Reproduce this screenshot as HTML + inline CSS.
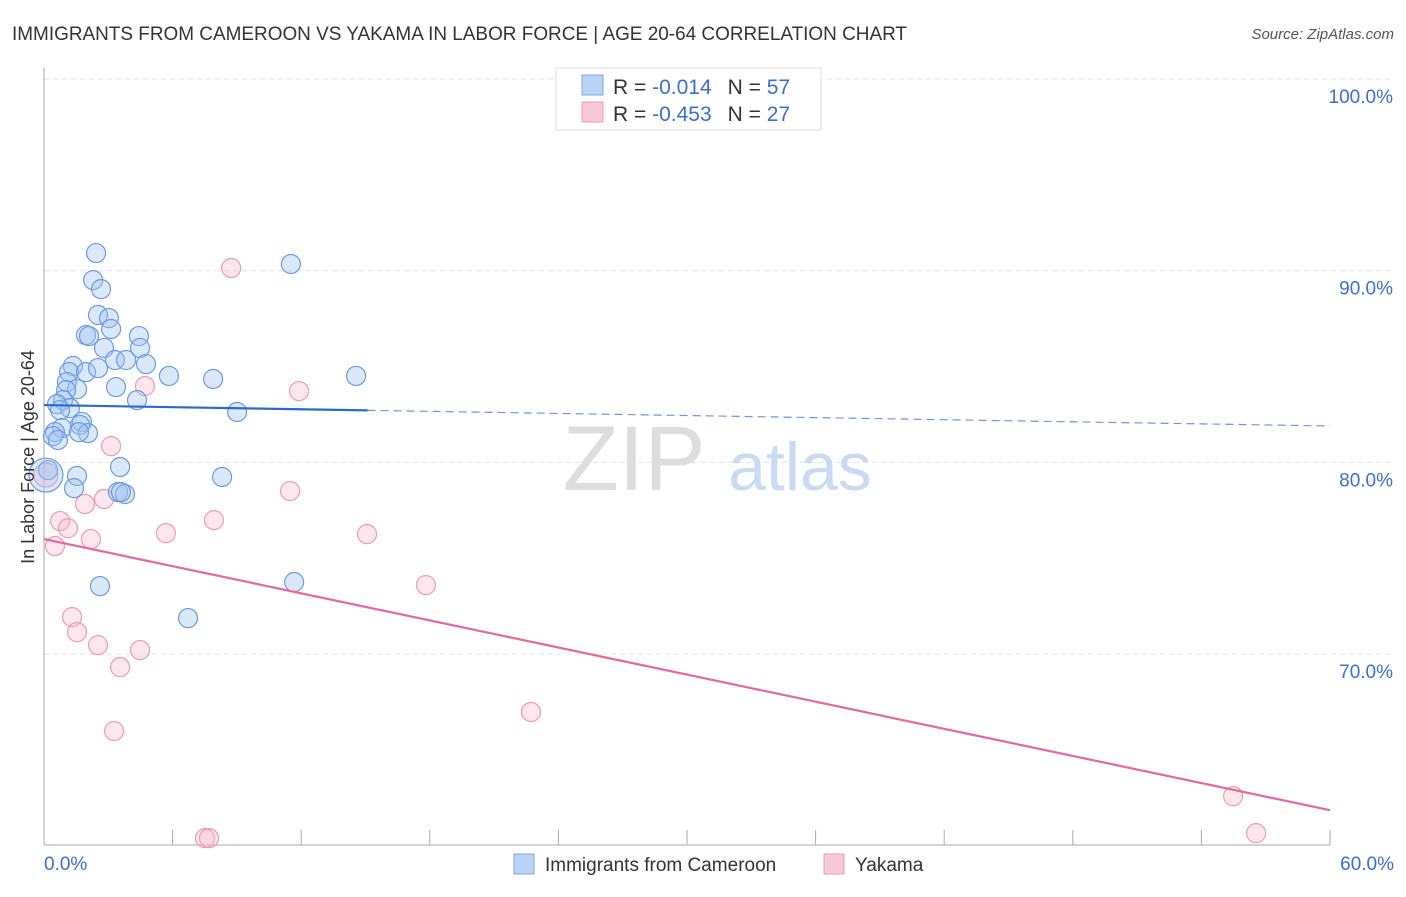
<!DOCTYPE html>
<html><head><meta charset="utf-8"><style>
body{margin:0;background:#fff;font-family:"Liberation Sans",sans-serif;}
svg text{font-family:"Liberation Sans",sans-serif;}
</style></head><body>
<svg id="chart" width="1406" height="892">
<text x="12" y="40" font-size="19" fill="#333" textLength="895" lengthAdjust="spacingAndGlyphs">IMMIGRANTS FROM CAMEROON VS YAKAMA IN LABOR FORCE | AGE 20-64 CORRELATION CHART</text>
<text x="1394" y="39" font-size="15" fill="#555" font-style="italic" text-anchor="end">Source: ZipAtlas.com</text>
<g id="grid"></g>
<g><text x="634" y="490" font-size="92" fill="#ddd" font-family="Liberation Serif" text-anchor="middle">ZIP</text><text x="800" y="490" font-size="68" fill="#c9daf3" text-anchor="middle">atlas</text></g>
<g id="axes"></g>
<g id="marks"></g>
<text transform="translate(34,457) rotate(-90)" font-size="18" fill="#333" text-anchor="middle">In Labor Force | Age 20-64</text>
<g>
<rect x="556" y="68" width="265" height="62" fill="#fff" stroke="#ddd"/>
<rect x="582" y="75" width="21" height="20" fill="#b9d3f5" stroke="#7fa8e6"/>
<rect x="582" y="102" width="21" height="20" fill="#fac9d8" stroke="#f09ab5"/>
<text x="613" y="94" font-size="21" fill="#333">R = <tspan fill="#3a6fd0">-0.014</tspan><tspan dx="16">N = </tspan><tspan fill="#3a6fd0">57</tspan></text>
<text x="613" y="121" font-size="21" fill="#333">R = <tspan fill="#3a6fd0">-0.453</tspan><tspan dx="16">N = </tspan><tspan fill="#3a6fd0">27</tspan></text>
</g>
<g>
<rect x="514" y="854" width="20" height="20" fill="#b9d3f5" stroke="#7fa8e6"/>
<text x="545" y="871" font-size="19" fill="#333">Immigrants from Cameroon</text>
<rect x="824" y="854" width="20" height="20" fill="#fac9d8" stroke="#f09ab5"/>
<text x="855" y="871" font-size="19" fill="#333">Yakama</text>
</g>
</svg>
<script>
const yTicks=[100,90,80,70];
const yTickLabels=["100.0%","90.0%","80.0%","70.0%"];
const xTickLabels=["0.0%","60.0%"];
const blueX=[2.43,11.52,2.29,2.66,2.52,3.03,3.13,1.96,2.10,4.43,2.80,4.48,3.31,3.83,4.76,1.35,1.17,1.96,2.52,5.83,7.89,14.56,1.07,3.36,1.54,1.03,4.34,0.89,0.61,1.21,0.75,9.01,1.77,1.68,0.84,0.51,2.05,1.63,0.42,0.65,0.19,3.55,1.54,8.31,1.40,3.45,3.78,3.59,2.61,11.67,6.72,0.09];
const blueY=[90.92,90.35,89.51,89.04,87.69,87.53,86.96,86.64,86.59,86.59,85.97,85.97,85.34,85.34,85.13,85.03,84.71,84.71,84.92,84.51,84.35,84.51,84.19,83.93,83.82,83.77,83.25,83.25,83.04,82.83,82.73,82.63,82.11,81.95,81.79,81.58,81.53,81.58,81.37,81.17,79.60,79.76,79.29,79.24,78.66,78.45,78.35,78.45,73.55,73.76,71.88,79.34];
const pinkX=[8.73,4.71,11.90,3.13,11.48,2.80,1.91,7.93,0.75,1.12,5.69,15.07,2.19,0.51,17.82,1.31,1.54,2.52,4.48,3.55,22.72,3.27,55.48,7.51,7.70,56.55,0.09];
const pinkY=[90.14,83.98,83.72,80.85,78.51,78.09,77.83,76.99,76.94,76.57,76.31,76.26,76.00,75.64,73.60,71.93,71.15,70.47,70.21,69.32,66.98,65.99,62.59,60.40,60.40,60.66,79.34];
const blueTrend=[82.99,81.90]; const blueSolidEnd=15.1;
const pinkTrend=[76.00,61.86];
const NS="http://www.w3.org/2000/svg";
const xs=v=>44+v/60*1286;
const ys=v=>79+(100-v)*19.17;
function mk(tag,attrs,parent){const e=document.createElementNS(NS,tag);for(const k in attrs)e.setAttribute(k,attrs[k]);parent.appendChild(e);return e;}
const grid=document.getElementById('grid'),axes=document.getElementById('axes'),marks=document.getElementById('marks');
yTicks.forEach((t,i)=>{
 const l=mk('line',{x1:44,x2:1393,y1:ys(t),y2:ys(t),stroke:'#e2e2e2','stroke-dasharray':'5,4'},grid);
 
 
 const tx=mk('text',{x:1393,y:ys(t)+24,'font-size':19,fill:'#3a6fd0','text-anchor':'end'},axes);
 tx.textContent=yTickLabels[i];
 
 
});
mk('line',{x1:44,x2:44,y1:68,y2:845,stroke:'#aaa'},axes);
mk('line',{x1:44,x2:1330,y1:845,y2:845,stroke:'#aaa'},axes);
for(let i=0;i<=10;i++){const x=xs(i*6);mk('line',{x1:x,x2:x,y1:830,y2:845,stroke:'#aaa'},axes);}
[[0,'start',44],[60,'end',1394]].forEach((d,i)=>{
 const tx=mk('text',{x:d[2],y:870,'font-size':19,fill:'#3a6fd0','text-anchor':d[1]},axes);
 tx.textContent=xTickLabels[i];
 
 
});
pinkX.forEach((x,i)=>{
 const c=mk('circle',{cx:xs(x),cy:ys(pinkY[i]),r:i==pinkX.length-1?12:9.5,fill:'rgba(248,183,203,0.35)',stroke:'#ee9ab4','stroke-width':1.2},marks);
 
 
});
blueX.forEach((x,i)=>{
 const c=mk('circle',{cx:xs(x),cy:ys(blueY[i]),r:i==blueX.length-1?17:9.5,fill:'rgba(160,195,240,0.38)',stroke:'#6a9be0','stroke-width':1.2},marks);
 
 
});
const bAt=v=>blueTrend[0]+(blueTrend[1]-blueTrend[0])*v/60;
const b1=mk('line',{x1:xs(0),y1:ys(bAt(0)),x2:xs(blueSolidEnd),y2:ys(bAt(blueSolidEnd)),stroke:'#2a6ad4','stroke-width':2.2},marks);


const b2=mk('line',{x1:xs(blueSolidEnd),y1:ys(bAt(blueSolidEnd)),x2:xs(60),y2:ys(bAt(60)),stroke:'#6a9be0','stroke-width':1.2,'stroke-dasharray':'8,5'},marks);


const p1=mk('line',{x1:xs(0),y1:ys(pinkTrend[0]),x2:xs(60),y2:ys(pinkTrend[1]),stroke:'#e4689a','stroke-width':2.2},marks);


</script>
</body></html>
